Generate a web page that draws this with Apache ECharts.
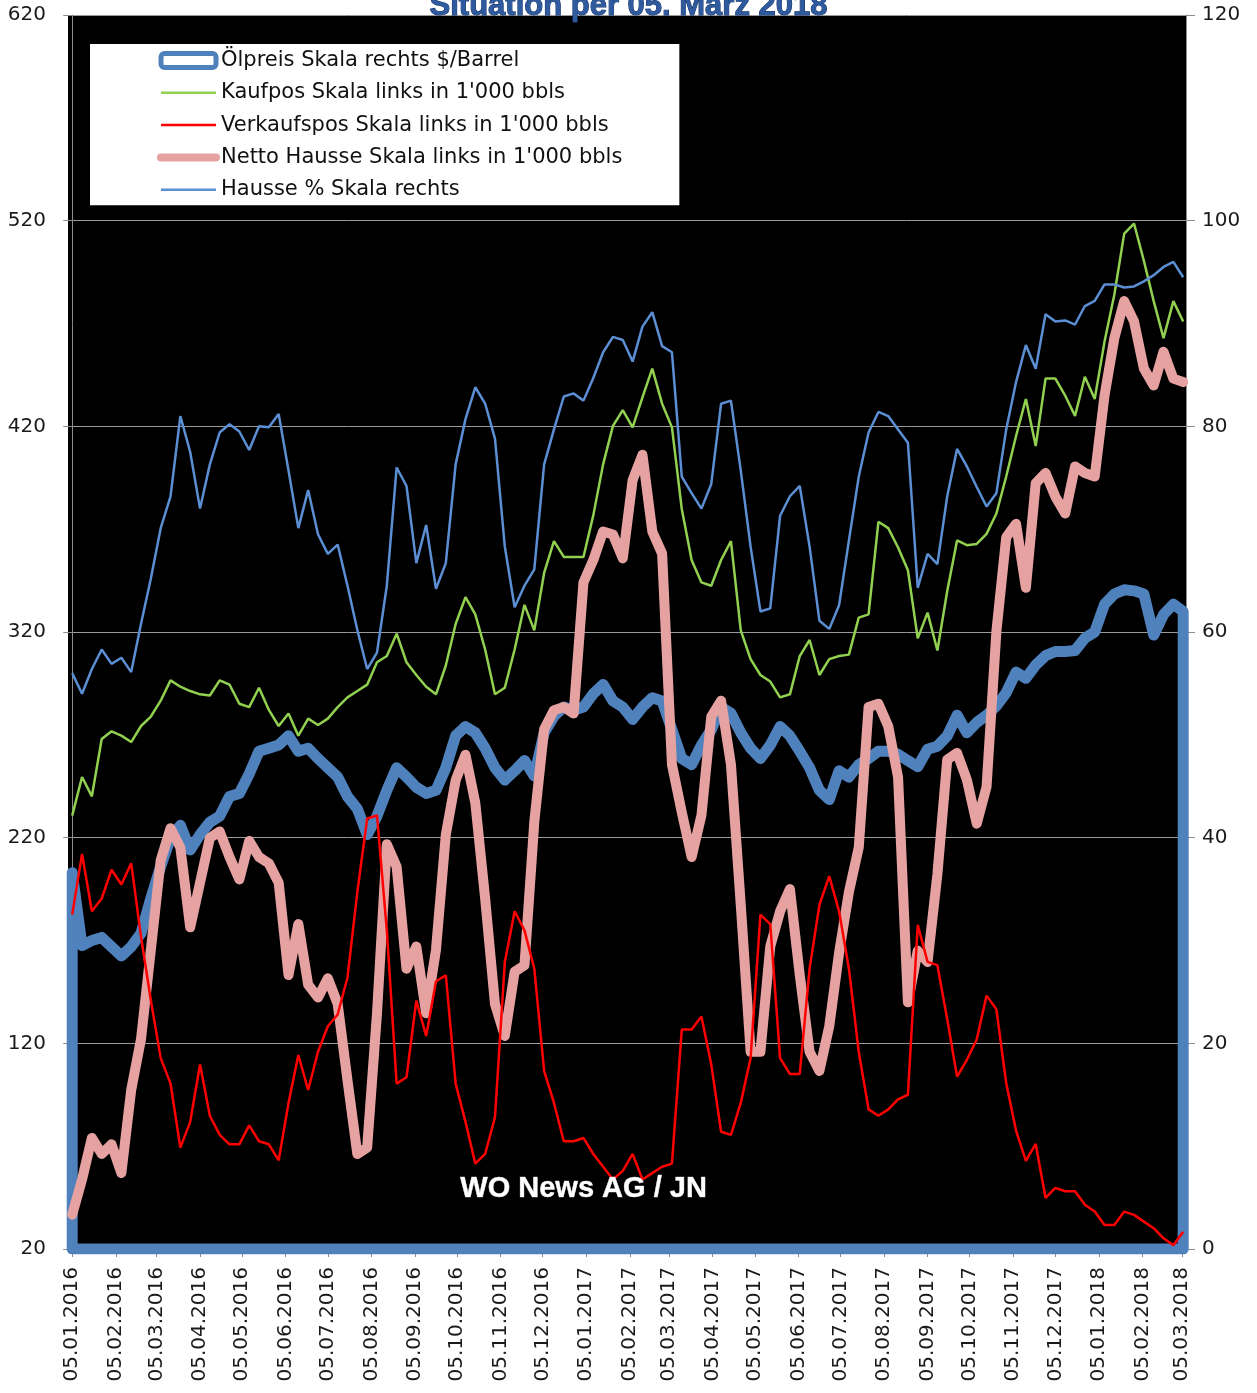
<!DOCTYPE html>
<html>
<head>
<meta charset="utf-8">
<title>Situation per 05. März 2018</title>
<script src="https://cdn.jsdelivr.net/npm/echarts@6/dist/echarts.min.js"></script>
<style>
  html, body { margin: 0; padding: 0; background: #fff; }
  #main { width: 1257px; height: 1393px; }
</style>
</head>
<body>
<div id="main"></div>
<script>
// weekly COT values, first week = 05.01.2016, one value every 7 days
var tickLabels = ['05.01.2016','05.02.2016','05.03.2016','05.04.2016','05.05.2016','05.06.2016',
  '05.07.2016','05.08.2016','05.09.2016','05.10.2016','05.11.2016','05.12.2016',
  '05.01.2017','05.02.2017','05.03.2017','05.04.2017','05.05.2017','05.06.2017',
  '05.07.2017','05.08.2017','05.09.2017','05.10.2017','05.11.2017','05.12.2017',
  '05.01.2018','05.02.2018','05.03.2018'];

// Ölpreis $/Barrel (rechte Skala)
var oilPrice = [36.6,29.5,30.0,30.3,29.4,28.5,29.4,30.7,34.1,37.2,40.0,41.2,38.8,40.3,41.5,42.1,44.0,44.3,46.2,48.4,
  48.7,49.0,49.9,48.4,48.7,47.7,46.8,45.9,44.0,42.8,40.3,42.1,44.6,46.8,45.9,44.9,44.3,44.6,46.8,49.9,
  50.8,50.2,48.7,46.8,45.6,46.5,47.5,46.0,50.2,51.8,52.7,52.4,52.7,54.0,54.9,53.3,52.7,51.5,52.7,53.6,
  53.3,50.5,47.7,47.1,49.0,50.5,52.7,52.1,50.2,48.7,47.7,49.0,50.8,49.9,48.4,46.8,44.6,43.7,46.5,45.9,
  47.1,47.7,48.4,48.4,48.1,47.5,46.9,48.6,48.9,49.9,51.9,50.2,51.2,51.9,52.8,54.1,56.1,55.5,56.8,57.7,
  58.1,58.1,58.2,59.4,60.0,62.7,63.7,64.1,64.0,63.7,59.7,61.7,62.7,62.0];

// Kaufpositionen in 1'000 bbls (linke Skala)
var kaufpos = [230.7,249.5,240.1,268.0,271.7,269.6,266.5,274.3,278.9,286.6,296.5,293.4,291.3,289.7,289.1,296.5,294.4,285.1,283.5,292.9,
  282.1,274.3,280.4,269.6,277.9,274.8,277.9,283.5,288.2,291.3,294.4,305.3,308.3,319.2,305.3,299.1,293.4,289.7,303.7,323.9,
  336.9,328.6,311.5,289.7,292.9,311.5,333.2,320.8,348.7,364.2,356.5,356.5,356.5,376.7,401.5,420.2,427.9,419.5,434.1,448.1,
  431.0,419.5,379.8,355.0,344.1,342.5,355.0,364.2,320.8,306.8,299.1,295.9,288.2,289.7,308.3,316.1,299.1,306.8,308.3,309.0,
  327.0,328.6,373.6,370.5,361.1,350.0,316.9,329.4,311.0,339.9,364.5,362.2,362.8,367.7,377.6,395.6,415.3,433.3,410.4,443.2,
  443.2,434.9,425.1,444.1,433.3,461.2,484.1,513.7,518.6,500.5,480.9,462.9,480.9,471.0];

// Verkaufspositionen in 1'000 bbls (linke Skala)
var verkaufspos = [182.6,212.1,184.2,190.4,204.4,197.2,207.5,171.8,140.8,112.8,100.4,69.3,81.8,109.7,84.8,75.5,70.9,70.9,80.1,72.4,
  70.9,63.1,91.0,114.3,97.3,115.9,128.3,134.0,152.0,193.6,229.3,230.8,174.9,100.4,103.5,140.8,123.6,150.1,153.1,100.4,
  81.8,61.5,66.2,84.0,159.4,184.2,174.9,156.3,106.6,91.0,72.4,72.4,74.0,66.2,60.0,53.8,58.0,66.2,53.8,56.9,
  60.0,61.5,126.7,126.7,133.0,109.7,77.0,75.5,91.0,112.8,182.6,178.0,112.8,105.1,105.1,156.3,187.3,201.3,184.2,156.3,
  115.9,87.9,84.8,87.9,92.7,95.0,177.6,159.6,158.0,131.7,103.8,112.0,121.9,143.2,136.6,100.6,77.6,62.8,71.1,44.8,
  49.7,48.1,48.1,41.5,38.2,31.7,31.7,38.2,36.6,33.3,30.1,25.2,21.8,28.4];

// Netto Hausse in 1'000 bbls (linke Skala)
var nettoHausse = [36.7,53.8,74.0,66.2,70.9,56.9,97.3,122.1,165.5,209.0,224.6,215.2,176.4,198.1,219.9,223.0,210.6,199.7,218.4,210.6,
  207.5,198.1,153.2,178.0,148.5,142.3,151.6,139.2,102.0,66.2,69.3,134.6,216.8,205.9,156.3,167.1,134.6,165.5,221.5,247.9,
  260.3,236.9,190.4,139.1,123.6,154.8,157.9,227.7,272.7,282.0,283.5,280.4,344.1,355.0,368.9,367.4,355.8,393.8,406.2,368.9,
  358.1,255.6,232.3,210.6,230.8,278.9,286.6,255.6,187.3,115.9,115.9,167.1,184.2,195.0,153.2,115.9,106.6,128.3,164.0,193.6,
  215.2,283.5,285.1,274.2,249.4,140.0,165.0,159.6,202.2,257.9,261.2,248.1,226.8,244.8,320.2,366.1,372.6,341.5,392.3,397.3,
  385.8,377.6,400.5,397.3,395.6,435.0,462.9,480.9,471.0,448.1,439.9,456.3,443.2,441.6];

// Hausse % (rechte Skala)
var haussePct = [56.0,54.0,56.4,58.3,56.9,57.5,56.1,60.8,65.2,70.1,73.2,81.0,77.5,72.0,76.3,79.4,80.2,79.5,77.7,80.0,
  79.9,81.2,75.7,70.1,73.8,69.5,67.6,68.5,64.5,60.2,56.4,58.0,64.5,76.0,74.2,66.7,70.4,64.2,66.7,76.3,
  80.7,83.8,82.2,78.8,68.3,62.4,64.5,66.1,76.3,79.7,82.9,83.2,82.5,84.7,87.2,88.7,88.4,86.3,89.7,91.1,
  87.8,87.2,75.1,73.5,72.0,74.4,82.2,82.5,75.7,68.3,62.0,62.3,71.3,73.2,74.2,68.3,61.1,60.3,62.6,68.9,
  75.1,79.4,81.4,81.0,79.7,78.4,64.3,67.6,66.6,73.2,77.8,76.1,74.1,72.2,73.5,79.7,84.3,87.9,85.6,90.9,
  90.2,90.3,89.9,91.7,92.2,93.8,93.8,93.5,93.6,94.1,94.7,95.5,96.0,94.5];

var seriesNames = ['Ölpreis Skala rechts $/Barrel', 'Kaufpos Skala links in 1\'000 bbls',
  'Verkaufspos Skala links in 1\'000 bbls', 'Netto Hausse Skala links in 1\'000 bbls', 'Hausse % Skala rechts'];

function parseDay(s) {
  var p = s.split('.');
  return Date.UTC(+p[2], +p[1] - 1, +p[0]);
}
var start = parseDay(tickLabels[0]);
var tickDays = [];
var labelByDay = {};
tickLabels.forEach(function (s) {
  var d = Math.round((parseDay(s) - start) / 86400000);
  tickDays.push(d);
  labelByDay[d] = s;
});

function weekly(values) {
  return values.map(function (v, i) { return [i * 7, v]; });
}
var lastDay = (oilPrice.length - 1) * 7;
// the oil line in the original closes back along the base line
var oilData = [[0, 0]].concat(weekly(oilPrice), [[lastDay, 0], [0, 0]]);

var chart = echarts.init(document.getElementById('main'));
var axisGray = '#8c8c8c';
var font = 'DejaVu Sans';
var cOil = '#4F81BD', cKauf = '#92D050', cVerk = '#FF0000', cNetto = '#E6A1A1', cHausse = '#5B8ED3';

chart.setOption({
  animation: false,
  backgroundColor: '#fff',
  title: {
    text: 'Situation per 05. März 2018',
    left: 'center',
    top: -14,
    textStyle: {
      fontFamily: 'Liberation Sans', fontWeight: 'bold', fontSize: 31,
      color: '#2F5A9E', textBorderColor: '#123068', textBorderWidth: 1
    }
  },
  legend: {
    orient: 'vertical',
    left: 90,
    top: 44,
    backgroundColor: '#fff',
    padding: [6, 57, 5, 67],
    itemWidth: 55,
    itemHeight: 14,
    itemGap: 11.3,
    // hide the marker dot drawn in the middle of line icons
    itemStyle: { opacity: 0 },
    textStyle: { fontFamily: font, fontSize: 21, color: '#111', lineHeight: 20 },
    data: [
      { name: seriesNames[0], icon: 'roundRect',
        itemStyle: { opacity: 1, color: '#fff', borderColor: cOil, borderWidth: 5 } },
      { name: seriesNames[1], lineStyle: { width: 2.5 } },
      { name: seriesNames[2], lineStyle: { width: 2.5 } },
      { name: seriesNames[3], lineStyle: { width: 8 } },
      { name: seriesNames[4], lineStyle: { width: 2.5 } }
    ]
  },
  grid: {
    left: 68, right: 71, top: 15, bottom: 144,
    show: true, backgroundColor: '#000', borderWidth: 0
  },
  xAxis: {
    type: 'value',
    min: -3,
    max: 793,
    splitLine: { show: false },
    axisLine: { lineStyle: { color: axisGray } },
    axisTick: { customValues: tickDays, length: 8, lineStyle: { color: axisGray } },
    axisLabel: {
      customValues: tickDays,
      rotate: 90,
      margin: 18,
      fontFamily: font,
      fontSize: 20,
      color: '#1a1a1a',
      formatter: function (v) { return labelByDay[v] || ''; }
    }
  },
  yAxis: [
    {
      type: 'value', min: 20, max: 620, interval: 100, position: 'left',
      axisLine: { show: true, lineStyle: { color: axisGray } },
      axisTick: { show: true, length: 9, lineStyle: { color: axisGray } },
      axisLabel: { margin: 22, fontFamily: font, fontSize: 20, color: '#1a1a1a' },
      splitLine: { lineStyle: { color: '#9a9a9a', width: 1 } }
    },
    {
      type: 'value', min: 0, max: 120, interval: 20, position: 'right',
      axisLine: { show: true, lineStyle: { color: axisGray } },
      axisTick: { show: true, length: 9, lineStyle: { color: axisGray } },
      axisLabel: { margin: 16, fontFamily: font, fontSize: 20, color: '#1a1a1a' },
      splitLine: { show: false }
    }
  ],
  series: [
    {
      name: seriesNames[0], type: 'line', yAxisIndex: 1, z: 2,
      data: oilData, symbol: 'none', itemStyle: { color: cOil },
      lineStyle: { color: cOil, width: 11, join: 'round', cap: 'round' }
    },
    {
      name: seriesNames[1], type: 'line', yAxisIndex: 0, z: 3,
      data: weekly(kaufpos), symbol: 'none', itemStyle: { color: cKauf },
      lineStyle: { color: cKauf, width: 2.5 }
    },
    {
      name: seriesNames[3], type: 'line', yAxisIndex: 0, z: 4,
      data: weekly(nettoHausse), symbol: 'none', itemStyle: { color: cNetto },
      lineStyle: { color: cNetto, width: 10, join: 'round', cap: 'round' }
    },
    {
      name: seriesNames[2], type: 'line', yAxisIndex: 0, z: 5,
      data: weekly(verkaufspos), symbol: 'none', itemStyle: { color: cVerk },
      lineStyle: { color: cVerk, width: 2.5 }
    },
    {
      name: seriesNames[4], type: 'line', yAxisIndex: 1, z: 6,
      data: weekly(haussePct), symbol: 'none', itemStyle: { color: cHausse },
      lineStyle: { color: cHausse, width: 2.5 }
    }
  ],
  graphic: [
    {
      type: 'text', left: 460, top: 1174, z: 100,
      style: {
        text: 'WO News AG / JN', fill: '#fff',
        font: 'bold 29px "Liberation Sans"',
        stroke: '#bbb', lineWidth: 0.6
      }
    }
  ]
});
</script>
</body>
</html>
